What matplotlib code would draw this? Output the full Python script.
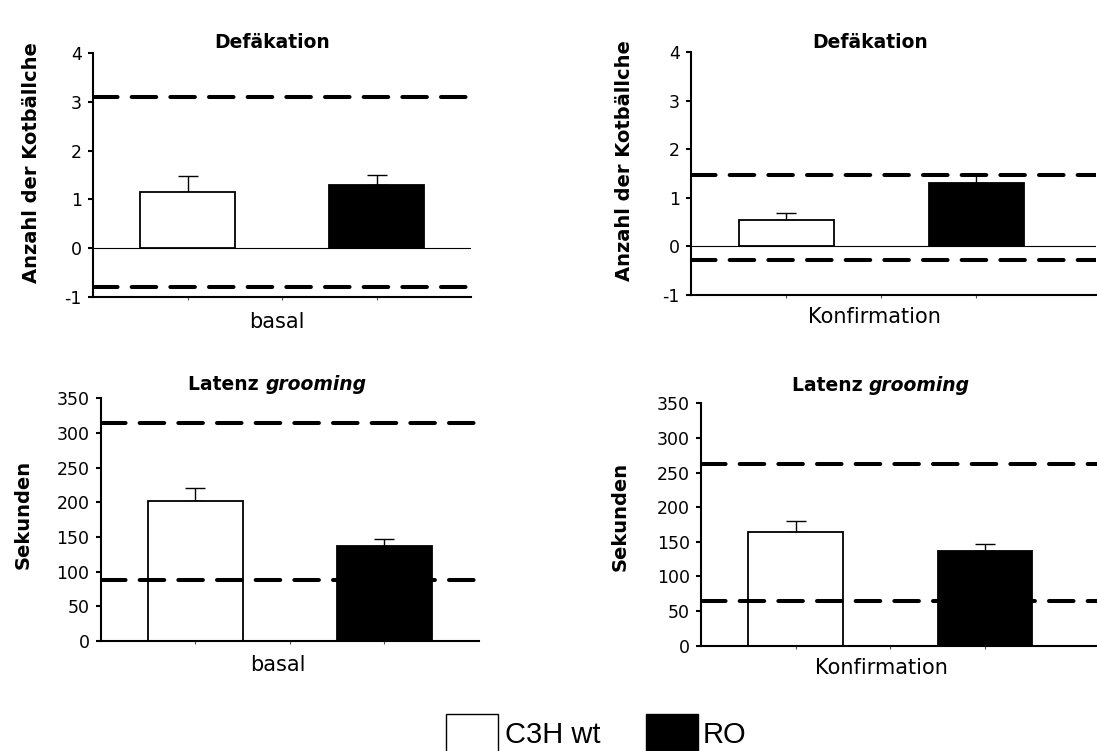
import matplotlib
matplotlib.use("Agg")
import matplotlib.pyplot as plt
from matplotlib.patches import Rectangle
import numpy as np

# ---------------- data ----------------
groups = ["C3H wt", "RO"]
bar_pos = [1, 3]

def_basal_mean = [1.15, 1.29]
def_basal_err = [0.32, 0.20]
def_basal_ref = [-0.80, 3.10]

def_konf_mean = [0.55, 1.30]
def_konf_err = [0.14, 0.19]
def_konf_ref = [-0.27, 1.48]

lat_basal_mean = [202, 137]
lat_basal_err = [19, 10]
lat_basal_ref = [88, 315]

lat_konf_mean = [164, 137]
lat_konf_err = [16, 10]
lat_konf_ref = [65, 262]

def_ticks = [-1, 0, 1, 2, 3, 4]
lat_ticks = [0, 50, 100, 150, 200, 250, 300, 350]

W, H = 1097, 751
fig = plt.figure(figsize=(W / 100, H / 100), dpi=100)

FONT = "DejaVu Sans"


def fx(px):
    return px / W


def fy(py):
    return 1 - py / H


def make_ax(left, right, top, bottom):
    return fig.add_axes([fx(left), fy(bottom), fx(right - left), (bottom - top) / H])


def style_ax(ax, xmax, ylim, yticks):
    ax.set_xlim(0, xmax)
    ax.set_ylim(*ylim)
    ax.set_yticks(yticks)
    ax.set_yticklabels([str(t) for t in yticks], fontfamily=FONT, fontsize=12.5)
    ax.set_xticks([1, 2, 3])
    ax.set_xticklabels([])
    ax.tick_params(axis="x", length=2, width=0.8, color="#555555", direction="out")
    ax.tick_params(axis="y", length=3.6, width=1.5, pad=4.5, direction="out", colors="black")
    for s in ["top", "right"]:
        ax.spines[s].set_visible(False)
    for s in ["left", "bottom"]:
        ax.spines[s].set_linewidth(1.5)
        ax.spines[s].set_color("black")
    ax.set_facecolor("none")


def draw_panel(ax, means, errs, refs, zero_line=False):
    ax.bar(bar_pos, means, width=1.0, color=["white", "black"], edgecolor="black",
           linewidth=1.3, zorder=2)
    ax.errorbar(bar_pos, means, yerr=[np.zeros(len(errs)), errs], fmt="none",
                ecolor="black", elinewidth=1.0, capsize=7.5, capthick=1.0, zorder=1)
    if zero_line:
        ax.axhline(0, color="black", lw=0.8, zorder=1.5)
    for r in refs:
        ax.axhline(r, color="black", lw=2.9, linestyle=(0, (6.1, 3.5)),
                   dash_capstyle="round", zorder=3)


# panel geometry (pixels)
ax1 = make_ax(93, 471, 53.3, 296.7)
style_ax(ax1, 4.0, (-1, 4), def_ticks)
draw_panel(ax1, def_basal_mean, def_basal_err, def_basal_ref, zero_line=True)

ax2 = make_ax(691, 1096, 52.3, 295)
style_ax(ax2, (1096 - 691) / 95.0, (-1, 4), def_ticks)
draw_panel(ax2, def_konf_mean, def_konf_err, def_konf_ref, zero_line=True)

ax3 = make_ax(100.7, 479, 398.3, 641)
style_ax(ax3, 4.0, (0, 350), lat_ticks)
draw_panel(ax3, lat_basal_mean, lat_basal_err, lat_basal_ref)

ax4 = make_ax(701, 1097, 403.3, 645.7)
style_ax(ax4, (1097 - 701) / 94.6, (0, 350), lat_ticks)
draw_panel(ax4, lat_konf_mean, lat_konf_err, lat_konf_ref)

# ---------------- texts ----------------
# titles
for (cx, cy) in [(272, 42), (870, 42)]:
    fig.text(fx(cx), fy(cy), "Defäkation", ha="center", va="center",
             fontfamily=FONT, fontweight="bold", fontsize=13.5)

renderer = fig.canvas.get_renderer()
for (cx, cy) in [(277.5, 385), (881, 385.7)]:
    t1 = fig.text(0, fy(cy), "Latenz ", ha="left", va="center",
                  fontfamily=FONT, fontweight="bold", fontsize=13.5)
    t2 = fig.text(0, fy(cy), "grooming", ha="left", va="center",
                  fontfamily=FONT, fontweight="bold", fontstyle="italic", fontsize=13.5)
    w1 = t1.get_window_extent(renderer).width
    w2 = t2.get_window_extent(renderer).width
    start = cx - (w1 + w2) / 2
    t1.set_x(fx(start))
    t2.set_x(fx(start + w1))

# x labels
for (cx, cy, s) in [(276.7, 321.7, "basal"), (874, 316.7, "Konfirmation"),
                    (277.7, 665, "basal"), (881.7, 668.3, "Konfirmation")]:
    fig.text(fx(cx), fy(cy), s, ha="center", va="center", fontfamily=FONT, fontsize=15)

# y labels
for (cx, cy, s) in [(32, 163, "Anzahl der Kotbällche"), (625, 161, "Anzahl der Kotbällche"),
                    (23, 514.5, "Sekunden"), (620, 516.7, "Sekunden")]:
    fig.text(fx(cx), fy(cy), s, ha="center", va="center", rotation=90,
             fontfamily=FONT, fontweight="bold", fontsize=14)

# ---------------- legend ----------------
legend_items = [(445.7, "white", 505, groups[0]), (645.7, "black", 703, groups[1])]
for (bx, col, tx, lab) in legend_items:
    fig.patches.append(Rectangle((fx(bx), fy(770)), fx(52), (770 - 714) / H,
                                 transform=fig.transFigure, facecolor=col,
                                 edgecolor="black", linewidth=1.0, figure=fig))
    fig.text(fx(tx), fy(743), lab, ha="left", va="baseline",
             fontfamily="Liberation Sans", fontsize=21)

fig.savefig("out.png", dpi=100, facecolor="white")
